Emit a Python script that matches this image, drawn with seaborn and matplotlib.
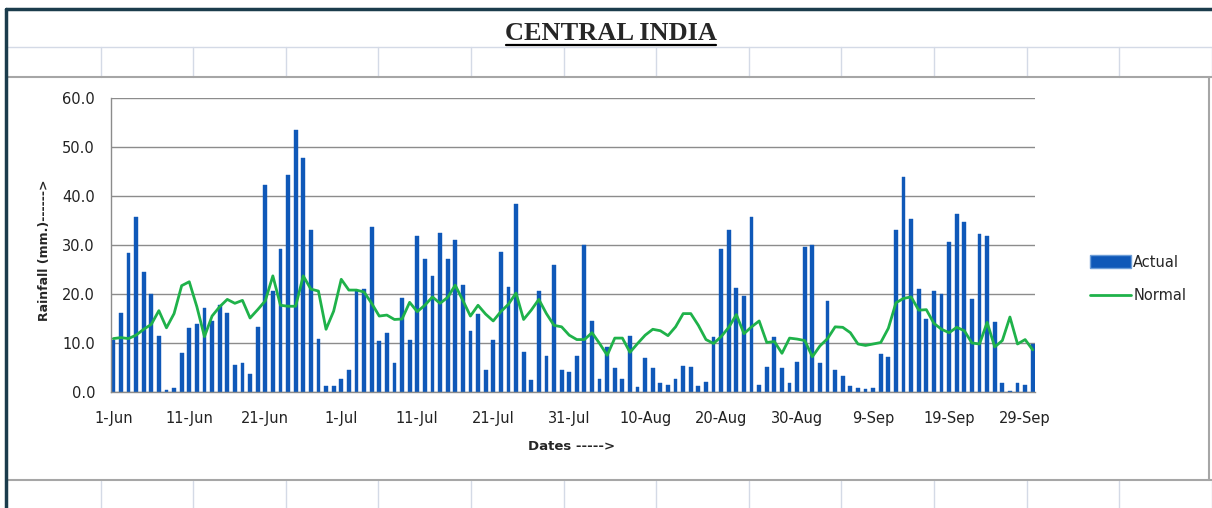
import numpy as np
import pandas as pd
import matplotlib.pyplot as plt
import seaborn as sns
from matplotlib.lines import Line2D
from matplotlib.patches import Patch

# daily rainfall (mm), 1-Jun .. 30-Sep
actual = [
    10.6, 16.2, 28.4, 35.7, 24.5, 20.0, 11.5, 0.4, 0.9, 8.0,
    13.0, 13.8, 17.1, 14.5, 17.7, 16.2, 5.6, 6.0, 3.6, 13.3,
    42.2, 20.6, 29.2, 44.3, 53.4, 47.8, 33.0, 10.9, 1.2, 1.2,
    2.7, 4.4, 20.8, 21.0, 33.7, 10.4, 12.1, 6.0, 19.2, 10.7,
    31.9, 27.2, 23.6, 32.5, 27.2, 31.0, 21.9, 12.5, 15.9, 4.4,
    10.7, 28.6, 21.5, 38.4, 8.2, 2.4, 20.7, 7.4, 26.0, 4.4,
    4.1, 7.4, 29.9, 14.5, 2.7, 9.1, 4.8, 2.7, 11.5, 1.0,
    6.9, 4.8, 1.8, 1.5, 2.7, 5.3, 5.1, 1.2, 2.1, 11.2,
    29.2, 33.1, 21.2, 19.5, 35.7, 1.5, 5.1, 11.2, 4.8, 1.8,
    6.2, 29.5, 29.9, 6.0, 18.6, 4.4, 3.3, 1.2, 0.9, 0.6,
    0.9, 7.7, 7.1, 33.1, 43.9, 35.4, 21.0, 14.8, 20.7, 20.0,
    30.6, 36.3, 34.6, 18.9, 32.2, 31.8, 14.2, 1.8, 0.3, 1.8,
    1.5, 9.8,
]
normal = [
    10.9, 11.1, 10.9, 11.6, 12.8, 13.8, 16.6, 13.1, 16.0, 21.7,
    22.5, 17.4, 11.3, 15.5, 17.4, 18.9, 18.1, 18.7, 15.1, 16.8,
    18.6, 23.7, 17.7, 17.5, 17.5, 23.7, 21.0, 20.6, 12.8, 16.5,
    23.0, 20.8, 20.8, 20.4, 18.1, 15.5, 15.7, 14.8, 14.9, 18.3,
    16.4, 17.7, 19.4, 18.1, 19.3, 21.8, 18.7, 15.5, 17.7, 15.9,
    14.5, 16.4, 17.9, 20.2, 14.8, 16.7, 18.9, 16.0, 13.6, 13.3,
    11.6, 10.7, 10.7, 12.1, 9.9, 7.5, 11.0, 11.0, 8.1, 9.9,
    11.6, 12.8, 12.5, 11.5, 13.3, 16.0, 16.0, 13.6, 10.7, 9.9,
    11.3, 13.2, 15.8, 11.9, 13.3, 14.5, 10.1, 10.3, 7.9, 11.0,
    10.8, 10.5, 7.2, 9.4, 10.9, 13.3, 13.2, 12.1, 9.8, 9.5,
    9.8, 10.1, 13.0, 18.2, 19.1, 19.4, 16.7, 16.8, 14.0, 12.8,
    12.1, 13.2, 12.5, 10.0, 9.8, 14.2, 9.2, 10.5, 15.3, 9.8,
    10.7, 8.6,
]
dates = pd.date_range("2013-06-01", "2013-09-30", freq="D")
tick_labels = ["1-Jun", "11-Jun", "21-Jun", "1-Jul", "11-Jul", "21-Jul", "31-Jul",
               "10-Aug", "20-Aug", "30-Aug", "9-Sep", "19-Sep", "29-Sep"]

df = pd.DataFrame({"day": np.arange(len(dates)), "Actual": actual, "Normal": normal})

sns.set_style("white")
plt.rcParams["font.family"] = ["DejaVu Sans"]

W, H = 1212, 508
fig = plt.figure(figsize=(W / 100, H / 100), dpi=100)

def fx(px):
    return px / W

def fy(py):
    return 1 - py / H

# spreadsheet background: cell lines and borders
cell_col = "#d4dae6"
for xv in np.arange(100.5, W, 92.6):
    fig.add_artist(Line2D([fx(xv), fx(xv)], [fy(47), fy(77)], color=cell_col, lw=1))
    fig.add_artist(Line2D([fx(xv), fx(xv)], [fy(481), fy(H)], color=cell_col, lw=1))
fig.add_artist(Line2D([fx(8), 1], [fy(47), fy(47)], color=cell_col, lw=1))
fig.add_artist(Line2D([fx(8), 1], [fy(77), fy(77)], color="#a6a6a6", lw=1.5))
fig.add_artist(Line2D([fx(8), 1], [fy(480), fy(480)], color="#a6a6a6", lw=1.5))
fig.add_artist(Line2D([fx(1209), fx(1209)], [fy(77), fy(480)], color="#a6a6a6", lw=1.5))
fig.add_artist(Line2D([fx(6), 1], [fy(9), fy(9)], color="#1b3c4c", lw=2.5))
fig.add_artist(Line2D([fx(6), fx(6)], [0, fy(9)], color="#1b3c4c", lw=2.5))

# title with underline
fig.text(fx(611), fy(33), "CENTRAL INDIA", ha="center", va="center",
         fontsize=19, fontweight="bold", family=["Liberation Serif"])
fig.add_artist(Line2D([fx(506), fx(716)], [fy(44.5), fy(44.5)], color="black", lw=1.6))

ax = fig.add_axes([fx(111), fy(392), fx(1035) - fx(111), fy(98) - fy(392)])
sns.barplot(data=df, x="day", y="Actual", color="#0f58b8", saturation=1,
            width=0.5, edgecolor="#0f58b8", linewidth=0.3, ax=ax, label="Actual")
sns.lineplot(data=df, x="day", y="Normal", color="#1fb24a", lw=2, ax=ax, label="Normal")

ax.set_ylim(0, 60)
ax.set_yticks(np.arange(0, 61, 10))
ax.set_yticklabels([f"{v:.1f}" for v in np.arange(0, 61, 10)])
ax.set_xlim(-0.3, 121.3)
ax.set_xticks(np.arange(0, len(dates), 10))
ax.set_xticklabels(tick_labels)
ax.grid(axis="y", color="#8c8c8c", lw=1)
ax.set_axisbelow(True)
for s in ["top", "right"]:
    ax.spines[s].set_visible(False)
for s in ["left", "bottom"]:
    ax.spines[s].set_color("#8c8c8c")
    ax.spines[s].set_linewidth(1)
ax.tick_params(axis="y", length=6, color="#8c8c8c", pad=5.5, labelsize=10.5, labelcolor="#222222")
ax.tick_params(axis="x", length=5, color="#8c8c8c", pad=8.5, labelsize=10.5, labelcolor="#222222")
ax.set_xlabel("")
ax.set_ylabel("")
ax.legend_.remove()

fig.text(fx(572), fy(447), "Dates ----->", ha="center", va="center",
         fontsize=9.5, fontweight="bold")
fig.text(fx(45), fy(250), "Rainfall (mm.)------>", ha="center", va="center",
         rotation=90, fontsize=9, fontweight="bold")

handles = [Patch(facecolor="#0f58b8", edgecolor="#6d9ed8"),
           Line2D([], [], color="#1fb24a", lw=2)]
fig.legend(handles, ["Actual", "Normal"], loc="center left",
           bbox_to_anchor=(fx(1077), fy(279)), frameon=False, fontsize=10.5,
           handlelength=2.8, handleheight=0.9, handletextpad=0.15, labelspacing=1.3)

fig.savefig("out.png", dpi=100)
